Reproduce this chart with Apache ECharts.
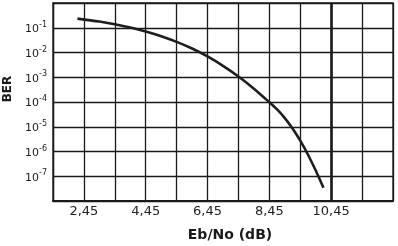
<!DOCTYPE html>
<html>
<head>
<meta charset="utf-8">
<script src="https://cdn.jsdelivr.net/npm/echarts@6/dist/echarts.min.js"></script>
<style>
html,body{margin:0;padding:0;background:#fff;}
#chart{width:398px;height:246px;}
</style>
</head>
<body>
<div id="chart"></div>
<script>
// Eb/No (dB) and BER
const ebno = [2.24, 2.95, 3.45, 3.95, 4.45, 4.95, 5.45, 5.95, 6.45, 6.95, 7.45, 7.95, 8.45, 8.7, 8.95, 9.2, 9.45, 9.7, 9.95, 10.2];
const ber  = [0.234, 0.178, 0.138, 0.102, 0.0708, 0.0457, 0.0269, 0.0145, 0.0069, 0.00288, 0.00107, 3.47e-4, 9.8e-5, 5.0e-5, 2.24e-5, 8.5e-6, 2.75e-6, 7.4e-7, 1.7e-7, 3.4e-8];
const xTickLabels = ['2,45', '4,45', '6,45', '8,45', '10,45'];
const xMinDb = 1.45, xMaxDb = 12.45;
const markerEbNo = 10.45;
const yExponentLabels = [-1, -2, -3, -4, -5, -6, -7];

// x axis uses values shifted so grid lines sit on integers
const xOffset = 0.45;
const seriesData = ebno.map((v, i) => [v - xOffset, ber[i]]);

const chart = echarts.init(document.getElementById('chart'), null, {renderer: 'canvas'});
const ink = '#1a1a1a';
chart.setOption({
  animation: false,
  grid: {left: 53, top: 3, right: 5, bottom: 45, containLabel: false, outerBoundsMode: 'none',
         show: true, borderColor: ink, borderWidth: 1.3, backgroundColor: 'transparent'},
  xAxis: {
    type: 'value',
    min: xMinDb - xOffset, max: xMaxDb - xOffset, interval: 1,
    name: 'Eb/No (dB)', nameLocation: 'middle', nameGap: 27,
    nameTextStyle: {fontFamily: 'DejaVu Sans', fontWeight: 'bold', fontSize: 14, color: ink, padding: [0, 0, 0, 14]},
    axisLine: {show: true, onZero: false, lineStyle: {color: ink, width: 2.2}},
    axisTick: {show: false},
    splitLine: {show: true, lineStyle: {color: ink, width: 1.3}},
    axisLabel: {
      margin: 4, fontFamily: 'DejaVu Sans', fontSize: 13, color: '#222',
      formatter: v => {
        const s = (v + xOffset).toFixed(2).replace('.', ',');
        return xTickLabels.indexOf(s) >= 0 ? s : '';
      }
    }
  },
  yAxis: {
    type: 'log', logBase: 10, min: 1e-8, max: 1, interval: 1,
    name: 'BER', nameLocation: 'middle', nameGap: 34, nameRotate: 90,
    nameTextStyle: {fontFamily: 'DejaVu Sans', fontWeight: 'bold', fontSize: 12, color: ink, padding: [0, 0, 0, 26]},
    axisLine: {show: true, lineStyle: {color: ink, width: 1.3}},
    axisTick: {show: false},
    splitLine: {show: true, lineStyle: {color: ink, width: 1.3}},
    axisLabel: {
      margin: 6, color: '#222',
      formatter: v => {
        const e = Math.round(Math.log10(v));
        return yExponentLabels.indexOf(e) >= 0 ? '{b|10}{s|' + e + '}' : '';
      },
      rich: {
        b: {fontFamily: 'DejaVu Sans', fontSize: 11, color: '#222', verticalAlign: 'bottom', lineHeight: 14},
        s: {fontFamily: 'DejaVu Sans', fontSize: 8, color: '#222', verticalAlign: 'top', lineHeight: 14}
      }
    }
  },
  series: [{
    type: 'line',
    data: seriesData,
    smooth: 0.3,
    showSymbol: false,
    lineStyle: {color: '#1e1e1e', width: 2.6},
    markLine: {
      silent: true, symbol: 'none', label: {show: false},
      lineStyle: {color: ink, width: 2.6, type: 'solid'},
      data: [{xAxis: markerEbNo - xOffset}]
    }
  }]
});
</script>
</body>
</html>
